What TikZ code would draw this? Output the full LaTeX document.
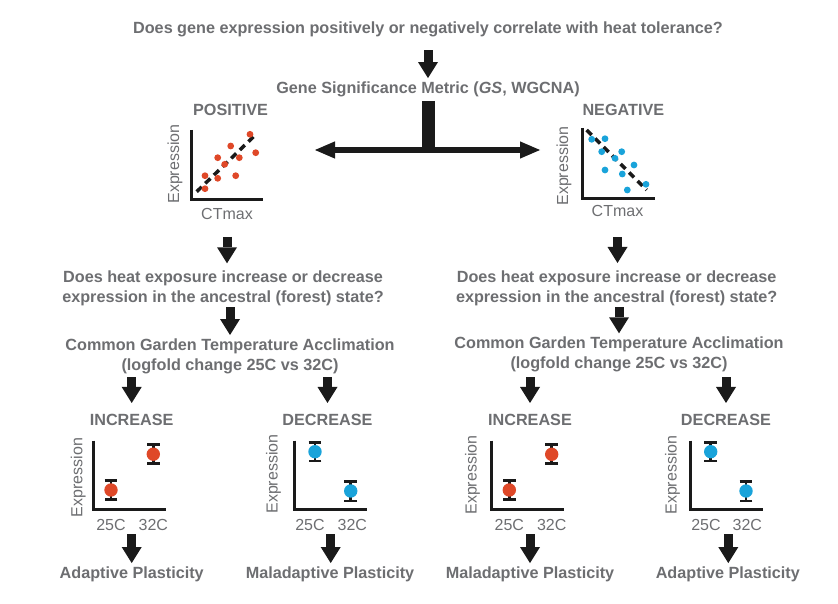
\documentclass[tikz,border=0pt]{standalone}
\usepackage{fontspec}
\setmainfont{Liberation Sans}
\usetikzlibrary{arrows.meta}
\definecolor{txtgray}{RGB}{109,110,113}
\definecolor{inkblack}{RGB}{26,26,26}
\definecolor{dotred}{RGB}{223,72,40}
\definecolor{dotblue}{RGB}{25,163,218}

\begin{document}
\begin{tikzpicture}[x=1pt,y=-1pt,
    qtext/.style={font=\fontsize{16.2}{20}\selectfont\bfseries,text=txtgray,inner sep=0pt,anchor=base},
    lbl/.style={font=\fontsize{16}{20}\selectfont,text=txtgray,inner sep=0pt},
    flow/.style={draw=inkblack,line width=9pt,-{Triangle[width=20pt,length=16pt,line width=0pt]}},
    stem/.style={draw=inkblack,line width=13pt},
    branch/.style={draw=inkblack,line width=6.5pt,{Triangle[width=17.3pt,length=20pt,line width=0pt]}-{Triangle[width=17.3pt,length=20pt,line width=0pt]}},
    axisline/.style={draw=inkblack,line width=3pt},
    trend/.style={draw=inkblack,line width=3.5pt,dash pattern=on 7pt off 5pt},
    ebar/.style={draw=inkblack,line width=2.8pt,{Bar[width=12.6pt]}-{Bar[width=12.6pt]}}]
        \useasboundingbox (0,0) rectangle (838,604);

        \node[qtext] (title) at (428,33.3) {Does gene expression positively or negatively correlate with heat tolerance?};
        \node[qtext] (gsm) at (428,94) {Gene Significance Metric (\textit{GS}, WGCNA)};
        \draw[flow,shorten <=13.3,shorten >=4] (title.south) -- (gsm.north);

        \coordinate (tj) at (428,150);
        \coordinate (tl) at (315,150);
        \coordinate (tr) at (540,150);
        \draw[stem,shorten <=3.3] (gsm.south) -- (tj);
        \draw[branch] (tl) -- (tr);

        \node[qtext] (pos) at (230.5,116) {POSITIVE};
        \node[lbl,rotate=90] (exprL) at (175,164) {Expression};
        \node[lbl,anchor=base] (ctmaxL) at (227,219.5) {CTmax};
        \draw[axisline] (191.7,130) |- (263.3,199.3);
        \draw[trend] (196.7,191.7) -- (256,134.3);
        \fill[dotred] (250,134.3) circle (3.4) (230.7,146) circle (3.4) (217.7,157.7) circle (3.4)
            (239.3,157.7) circle (3.4) (255.7,152.7) circle (3.4) (224.7,164.3) circle (3.4)
            (205,175.7) circle (3.4) (217.7,178.3) circle (3.4) (235.7,175.7) circle (3.4) (205,188.7) circle (3.4);

        \node[qtext] (neg) at (623.3,115.5) {NEGATIVE};
        \node[lbl,rotate=90] (exprR) at (564,166) {Expression};
        \node[lbl,anchor=base] (ctmaxR) at (617.5,217) {CTmax};
        \draw[axisline] (582.7,128) |- (655,199);
        \draw[trend] (586.7,130) -- (646.7,190);
        \fill[dotblue] (591.7,139.3) circle (3.4) (605,138.7) circle (3.4) (601.7,151.7) circle (3.4)
            (621.7,151.7) circle (3.4) (615,158.3) circle (3.4) (634,165) circle (3.4)
            (605,170) circle (3.4) (622.3,174) circle (3.4) (646,184.3) circle (3.4) (627.3,190) circle (3.4);

        \node[qtext,anchor=north,align=center] (heatL) at (223,270.1) {Does heat exposure increase or decrease\\expression in the ancestral (forest) state?};
        \node[qtext,anchor=north,align=center] (cgtaL) at (230,338.4) {Common Garden Temperature Acclimation\\(logfold change 25C vs 32C)};
        \draw[flow,shorten <=17,shorten >=6.8] (ctmaxL.south) -- (ctmaxL.south |- heatL.north);
        \draw[flow,shorten <=1.6,shorten >=3.4] (cgtaL.north |- heatL.south) -- (cgtaL.north);

        \node[qtext,anchor=north,align=center] (heatR) at (616.7,270.1) {Does heat exposure increase or decrease\\expression in the ancestral (forest) state?};
        \node[qtext,anchor=north,align=center] (cgtaR) at (619,336.7) {Common Garden Temperature Acclimation\\(logfold change 25C vs 32C)};
        \draw[flow,shorten <=19.7,shorten >=7.1] (ctmaxR.south) -- (ctmaxR.south |- heatR.north);
        \draw[flow,shorten <=1.6,shorten >=3.4] (cgtaR.north |- heatR.south) -- (cgtaR.north);

        \node[qtext] (inc1) at (131.7,425) {INCREASE};
        \node[qtext] (dec2) at (327.5,425) {DECREASE};
        \node[qtext] (inc3) at (530,425) {INCREASE};
        \node[qtext] (dec4) at (726,425) {DECREASE};
        \draw[flow,shorten <=3.3,shorten >=10.5] (inc1.north |- cgtaL.south) -- (inc1.north);
        \draw[flow,shorten <=3.3,shorten >=10.5] (dec2.north |- cgtaL.south) -- (dec2.north);
        \draw[flow,shorten <=5,shorten >=10.5] (inc3.north |- cgtaR.south) -- (inc3.north);
        \draw[flow,shorten <=5,shorten >=10.5] (dec4.north |- cgtaR.south) -- (dec4.north);

        \node[lbl,rotate=90] (e1) at (78.3,477.5) {Expression};
        \node[lbl,anchor=base] (a1) at (111,530) {25C};
        \node[lbl,anchor=base] (b1) at (153.3,530) {32C};
        \draw[axisline] (93.3,440.7) |- (166,509);
        \draw[ebar] (111,479.3) -- (111,500.7);
        \draw[ebar] (153.3,443.3) -- (153.3,465);
        \fill[dotred] (111,490) circle (6.7) (153.3,454.2) circle (6.7);
        \coordinate (p1) at (131.7,534);
        \node[qtext] (res1) at (131.7,578.3) {Adaptive Plasticity};
        \draw[flow,shorten >=3.3] (p1) -- (res1.north -| p1);

        \node[lbl,rotate=90] (e2) at (273.5,474) {Expression};
        \node[lbl,anchor=base] (a2) at (310,530) {25C};
        \node[lbl,anchor=base] (b2) at (352.3,530) {32C};
        \draw[axisline] (294.3,440.7) |- (367.3,509);
        \draw[ebar] (315,440.7) -- (315,462.3);
        \draw[ebar] (350.7,480) -- (350.7,502.3);
        \fill[dotblue] (315,451.7) circle (6.7) (350.7,491) circle (6.7);
        \coordinate (p2) at (330.7,534);
        \node[qtext] (res2) at (330,578.3) {Maladaptive Plasticity};
        \draw[flow,shorten >=3.3] (p2) -- (res2.north -| p2);

        \node[lbl,rotate=90] (e3) at (472.5,475) {Expression};
        \node[lbl,anchor=base] (a3) at (509.3,530) {25C};
        \node[lbl,anchor=base] (b3) at (551.7,530) {32C};
        \draw[axisline] (491.7,440.7) |- (564.3,509);
        \draw[ebar] (509.3,479.3) -- (509.3,500.7);
        \draw[ebar] (551.7,443.3) -- (551.7,465);
        \fill[dotred] (509.3,490) circle (6.7) (551.7,454.3) circle (6.7);
        \coordinate (p3) at (530,534);
        \node[qtext] (res3) at (530,578.3) {Maladaptive Plasticity};
        \draw[flow,shorten >=3.3] (p3) -- (res3.north -| p3);

        \node[lbl,rotate=90] (e4) at (672.5,475) {Expression};
        \node[lbl,anchor=base] (a4) at (706,530) {25C};
        \node[lbl,anchor=base] (b4) at (747.3,530) {32C};
        \draw[axisline] (690.7,440.7) |- (763.3,509);
        \draw[ebar] (710.7,440.7) -- (710.7,462.3);
        \draw[ebar] (746,480) -- (746,502.3);
        \fill[dotblue] (710.7,451.7) circle (6.7) (746,491) circle (6.7);
        \coordinate (p4) at (728.3,534);
        \node[qtext] (res4) at (727.8,578.3) {Adaptive Plasticity};
        \draw[flow,shorten >=3.3] (p4) -- (res4.north -| p4);
\end{tikzpicture}
\end{document}
